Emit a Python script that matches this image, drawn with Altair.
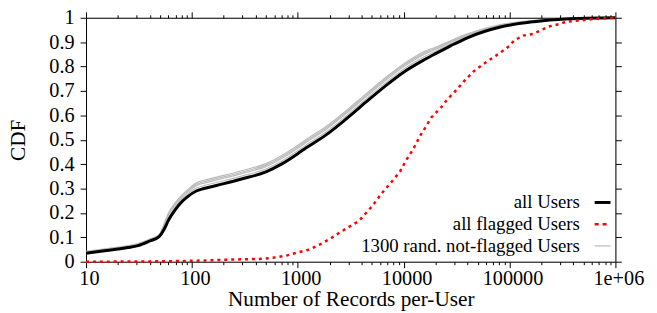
import altair as alt
import pandas as pd

# ---------------- data ----------------
x_all = [10, 15, 20, 25, 31, 40, 49, 55, 60, 70, 80, 90, 110, 130, 200, 300, 500, 700,
         1000, 1200, 1850, 2840, 4365, 6700, 10300, 15800, 19600, 28000, 40000, 82000,
         170000, 340000, 1000000]
y_all = [0.035, 0.045, 0.052, 0.058, 0.066, 0.085, 0.103, 0.135, 0.170, 0.215, 0.245,
         0.265, 0.290, 0.300, 0.320, 0.340, 0.368, 0.400, 0.443, 0.467, 0.520, 0.584,
         0.653, 0.720, 0.781, 0.829, 0.851, 0.886, 0.918, 0.962, 0.984, 0.995, 1.0]

gray_a = [0.039, 0.049, 0.056, 0.062, 0.070, 0.089, 0.107, 0.150, 0.190, 0.232, 0.262,
          0.282, 0.312, 0.322, 0.342, 0.362, 0.390, 0.422, 0.465, 0.489, 0.542, 0.606,
          0.675, 0.742, 0.803, 0.851, 0.869, 0.900, 0.928, 0.968, 0.987, 0.996, 1.0]
gray_b = [0.041, 0.051, 0.058, 0.064, 0.072, 0.091, 0.109, 0.155, 0.195, 0.238, 0.268,
          0.288, 0.318, 0.328, 0.348, 0.368, 0.396, 0.428, 0.471, 0.495, 0.548, 0.612,
          0.681, 0.748, 0.809, 0.857, 0.874, 0.904, 0.931, 0.970, 0.988, 0.996, 1.0]
gray_c = [0.043, 0.053, 0.060, 0.066, 0.074, 0.093, 0.111, 0.160, 0.200, 0.243, 0.273,
          0.293, 0.324, 0.334, 0.354, 0.374, 0.402, 0.434, 0.477, 0.501, 0.554, 0.618,
          0.687, 0.754, 0.815, 0.863, 0.878, 0.907, 0.934, 0.972, 0.989, 0.997, 1.0]
gray_d = [0.037, 0.047, 0.054, 0.060, 0.068, 0.087, 0.105, 0.143, 0.178, 0.225, 0.255,
          0.275, 0.302, 0.312, 0.332, 0.352, 0.380, 0.412, 0.455, 0.479, 0.532, 0.596,
          0.665, 0.732, 0.793, 0.841, 0.861, 0.894, 0.924, 0.966, 0.986, 0.995, 1.0]

x_flag = [10, 30, 60, 100, 130, 200, 300, 480, 620, 780, 1000, 1290, 1660, 2000, 2650,
          3780, 5040, 6250, 7740, 9250, 10600, 12400, 14200, 16000, 18300, 22600, 26000,
          30000, 37400, 46000, 62000, 82000, 100000, 110000, 134000, 168000, 190000,
          235000, 300000, 340000, 490000, 650000, 1000000]
y_flag = [0.0, 0.001, 0.002, 0.004, 0.005, 0.008, 0.010, 0.012, 0.018, 0.025, 0.038,
          0.050, 0.073, 0.093, 0.127, 0.167, 0.228, 0.282, 0.329, 0.370, 0.417, 0.464,
          0.514, 0.550, 0.592, 0.633, 0.667, 0.694, 0.741, 0.781, 0.822, 0.857, 0.885,
          0.906, 0.927, 0.934, 0.945, 0.964, 0.975, 0.984, 0.990, 0.996, 1.0]

legend_labels = ["all Users", "all flagged Users", "1300 rand. not-flagged Users"]
x_major = [10, 100, 1000, 10000, 100000, 1000000]
x_major_labels = ["10", "100", "1000", "10000", "100000", "1e+06"]
y_ticks = [0, 0.1, 0.2, 0.3, 0.4, 0.5, 0.6, 0.7, 0.8, 0.9, 1]
y_tick_labels = ["0", "0.1", "0.2", "0.3", "0.4", "0.5", "0.6", "0.7", "0.8", "0.9", "1"]

# ---------------- tables ----------------
x_minor = [k * d for d in x_major[:-1] for k in range(2, 10)]
x_ticks = sorted(x_major + x_minor)

df_all = pd.DataFrame({"x": x_all, "y": y_all})
df_flag = pd.DataFrame({"x": x_flag, "y": y_flag})
gray_rows = []
for name, ys in zip(["a", "b", "c", "d"], [gray_a, gray_b, gray_c, gray_d]):
    for xv, yv in zip(x_all, ys):
        gray_rows.append({"x": xv, "y": yv, "s": name})
df_gray = pd.DataFrame(gray_rows)

FONT = "Liberation Serif"
W, H = 536, 247

xscale = alt.Scale(type="log", domain=[10, 1000000], nice=False)
yscale = alt.Scale(domain=[0, 1], nice=False, zero=False)

major_test = "indexof(" + str(x_major) + ", datum.value) >= 0"
xlabel_expr = ("{" + ", ".join(f"'{v}': '{l}'" for v, l in zip(x_major, x_major_labels)) +
               "}[datum.value] || ''")
ylabel_expr = ("{" + ", ".join(f"'{v}': '{l}'" for v, l in zip(y_ticks, y_tick_labels)) +
               "}[datum.value] || '0'")

common_axis = dict(domainColor="black", domainWidth=1, tickColor="black", tickWidth=1,
                   grid=False, labelFont=FONT, titleFont=FONT, labelColor="black",
                   titleColor="black", labelOverlap=False, labelFlush=False)

x_bottom = alt.Axis(orient="bottom", values=x_ticks,
                    tickSize={"condition": {"test": major_test, "value": 6}, "value": 3},
                    labelExpr=xlabel_expr, labelFontSize=20.5, labelPadding=1, labelOffset=3,
                    title="Number of Records per-User", titleFontSize=21.5,
                    titleFontWeight="normal", titleBaseline="alphabetic", titleY=44,
                    **common_axis)
y_left = alt.Axis(orient="left", values=y_ticks, tickSize=6, labelExpr=ylabel_expr,
                  labelFontSize=20.5, labelPadding=6, title="CDF", titleFontSize=21.5,
                  titleFontWeight="normal", titleAngle=-90, titleBaseline="middle",
                  titleX=-68, titleY=H / 2, **common_axis)
x_top = alt.Axis(orient="top", values=x_ticks,
                 tickSize={"condition": {"test": major_test, "value": 6}, "value": 3},
                 labels=False, title=None, **common_axis)
y_right = alt.Axis(orient="right", values=y_ticks, tickSize=6, labels=False, title=None,
                   **common_axis)

gray = alt.Chart(df_gray).mark_line(color="#bbbbbb", strokeWidth=1.2,
                                    interpolate="monotone").encode(
    x=alt.X("x:Q", scale=xscale, axis=None),
    y=alt.Y("y:Q", scale=yscale, axis=None),
    detail="s:N",
)
black = alt.Chart(df_all).mark_line(color="black", strokeWidth=3,
                                    interpolate="monotone").encode(
    x=alt.X("x:Q", scale=xscale, axis=x_bottom),
    y=alt.Y("y:Q", scale=yscale, axis=y_left),
)
red = alt.Chart(df_flag).mark_line(color="#ff0000", strokeWidth=2.5,
                                   strokeDash=[3, 4]).encode(
    x=alt.X("x:Q", scale=xscale, axis=None),
    y=alt.Y("y:Q", scale=yscale, axis=None),
)
mirror = alt.Chart(df_all).mark_line(opacity=0).encode(
    x=alt.X("x:Q", scale=xscale, axis=x_top),
    y=alt.Y("y:Q", scale=yscale, axis=y_right),
)

# legend (bottom right, inside the plot)
leg_y = [187, 209, 231]
leg_styles = [
    dict(color="black", strokeWidth=3),
    dict(color="#ff0000", strokeWidth=2.5, strokeDash=[4, 4]),
    dict(color="#bbbbbb", strokeWidth=1.2),
]
legend_layers = []
for lab, ly, st in zip(legend_labels, leg_y, leg_styles):
    d = pd.DataFrame({"label": [lab]})
    legend_layers.append(
        alt.Chart(d).mark_text(font=FONT, fontSize=19, align="right", baseline="middle",
                               color="black").encode(
            x=alt.value(500), y=alt.value(ly), text="label:N"))
    legend_layers.append(
        alt.Chart(d).mark_rule(**st).encode(
            x=alt.value(515), x2=alt.value(531), y=alt.value(ly)))

chart = alt.layer(gray, black, red, mirror, *legend_layers).resolve_axis(
    x="independent", y="independent"
).properties(
    width=W, height=H,
    autosize=alt.AutoSizeParams(type="none"),
    padding={"left": 79, "top": 8, "right": 34, "bottom": 48},
).configure_view(stroke=None).configure(background="white")

chart.save("out.html", embed_options={"renderer": "svg", "actions": False})
